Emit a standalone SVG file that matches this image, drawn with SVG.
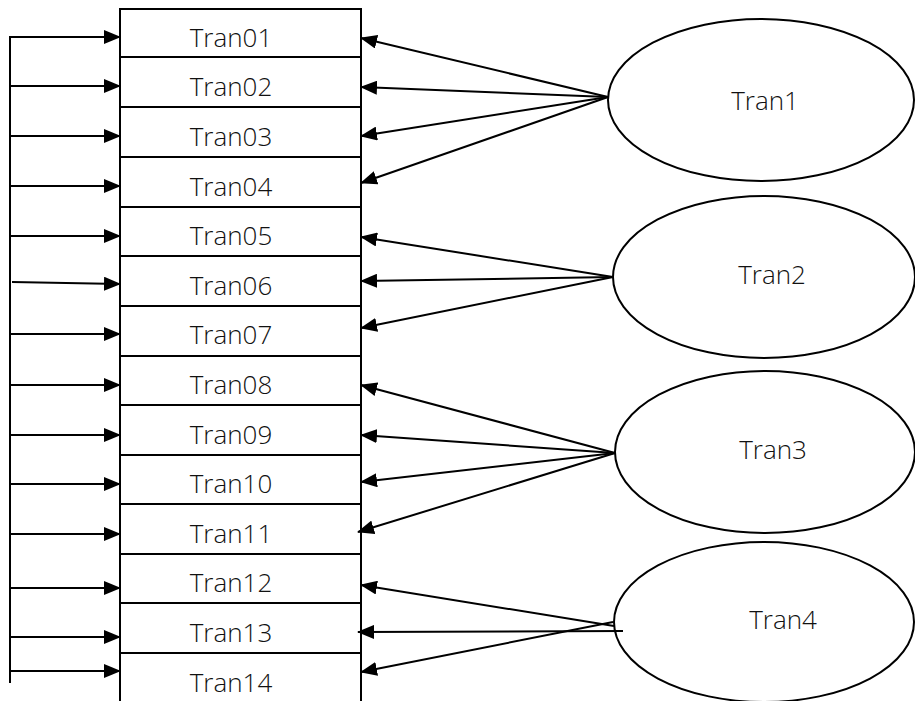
<svg xmlns="http://www.w3.org/2000/svg" width="915" height="701" viewBox="0 0 915 701">
  <style>
    .ln { stroke: #000; stroke-width: 2; fill: none; }
    .arr { stroke: #000; stroke-width: 2; fill: none; marker-end: url(#head); }
    .ell { stroke: #000; stroke-width: 2; fill: #fff; }
    .lbl { font-family: "Open Sans", "Noto Sans", "Liberation Sans", sans-serif; font-weight: 300; font-size: 26px; fill: #111; text-anchor: middle; }
  </style>
  <defs>
    <marker id="head" markerUnits="userSpaceOnUse" markerWidth="17" markerHeight="14" refX="16" refY="7" orient="auto">
      <path d="M0,0 L17,7 L0,14 z" fill="#000"/>
    </marker>
  </defs>
  <rect width="915" height="701" fill="#fff"/>

  <!-- transaction table -->
  <g id="table">
    <path class="ln" d="M120,701 V9 H361 V701"/>
    <path class="ln" d="M120,57 H361 M120,107 H361 M120,157 H361 M120,207 H361 M120,256 H361 M120,306 H361 M120,356 H361 M120,405 H361 M120,455 H361 M120,504 H361 M120,554 H361 M120,603 H361 M120,653 H361"/>
  </g>
  <g id="tran01"><text class="lbl" x="231" y="47">Tran01</text></g>
  <g id="tran02"><text class="lbl" x="231" y="96">Tran02</text></g>
  <g id="tran03"><text class="lbl" x="231" y="146">Tran03</text></g>
  <g id="tran04"><text class="lbl" x="231" y="196">Tran04</text></g>
  <g id="tran05"><text class="lbl" x="231" y="245">Tran05</text></g>
  <g id="tran06"><text class="lbl" x="231" y="295">Tran06</text></g>
  <g id="tran07"><text class="lbl" x="231" y="344">Tran07</text></g>
  <g id="tran08"><text class="lbl" x="231" y="394">Tran08</text></g>
  <g id="tran09"><text class="lbl" x="231" y="444">Tran09</text></g>
  <g id="tran10"><text class="lbl" x="231" y="493">Tran10</text></g>
  <g id="tran11"><text class="lbl" x="231" y="543">Tran11</text></g>
  <g id="tran12"><text class="lbl" x="231" y="592">Tran12</text></g>
  <g id="tran13"><text class="lbl" x="231" y="642">Tran13</text></g>
  <g id="tran14"><text class="lbl" x="231" y="692">Tran14</text></g>

  <!-- groups -->
  <g id="g-tran1">
    <ellipse class="ell" cx="761" cy="100" rx="153" ry="81"/>
    <text class="lbl" x="765" y="110">Tran1</text>
  </g>
  <g id="g-tran2">
    <ellipse class="ell" cx="764" cy="277" rx="151" ry="81"/>
    <text class="lbl" x="772" y="284">Tran2</text>
  </g>
  <g id="g-tran3">
    <ellipse class="ell" cx="765" cy="452" rx="150" ry="81"/>
    <text class="lbl" x="773" y="459">Tran3</text>
  </g>
  <g id="g-tran4">
    <ellipse class="ell" cx="764" cy="622" rx="150" ry="80"/>
    <text class="lbl" x="783" y="629">Tran4</text>
  </g>

  <!-- connectors -->
  <g id="connectors">
    <!-- feed line on the left -->
    <path class="ln" d="M10,36 V683"/>
    <path class="arr" d="M10,37 H120"/>
    <path class="arr" d="M10,86 H120"/>
    <path class="arr" d="M10,136 H120"/>
    <path class="arr" d="M10,186 H120"/>
    <path class="arr" d="M10,236 H120"/>
    <path class="arr" d="M12,282 L120,284"/>
    <path class="arr" d="M10,334 H120"/>
    <path class="arr" d="M10,385 H120"/>
    <path class="arr" d="M10,435 H120"/>
    <path class="arr" d="M10,484 H120"/>
    <path class="arr" d="M10,534 H120"/>
    <path class="arr" d="M10,588 H120"/>
    <path class="arr" d="M10,637 H120"/>
    <path class="arr" d="M10,671 H120"/>

    <!-- Tran1 -->
    <path class="arr" d="M608,97 L361,38"/>
    <path class="arr" d="M608,97 L361,87"/>
    <path class="arr" d="M608,97 L361,136"/>
    <path class="arr" d="M608,97 L361,183"/>
    <!-- Tran2 -->
    <path class="arr" d="M613,277 L361,237"/>
    <path class="arr" d="M613,277 L361,281"/>
    <path class="arr" d="M613,277 L361,328"/>
    <!-- Tran3 -->
    <path class="arr" d="M615,453 L361,385"/>
    <path class="arr" d="M615,453 L361,435"/>
    <path class="arr" d="M615,453 L361,482"/>
    <path class="arr" d="M615,453 L358,532"/>
    <!-- Tran4 -->
    <path class="arr" d="M614,626 L361,585"/>
    <path class="arr" d="M623,631 L358,632"/>
    <path class="arr" d="M613,622 L361,672"/>
  </g>
</svg>
